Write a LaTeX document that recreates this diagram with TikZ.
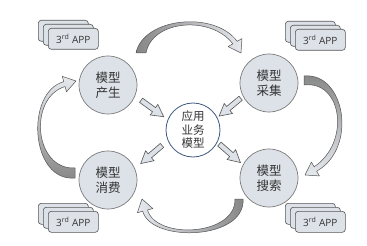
\documentclass[tikz,border=0pt]{standalone}
\usepackage{fontspec}
\setmainfont{Open Sans}
\newfontfamily\cjk{Noto Sans CJK SC}
\usetikzlibrary{calc}
\definecolor{cfill}{HTML}{DDE2E8}
\definecolor{cline}{HTML}{7A7A7A}
\definecolor{cblue}{HTML}{3F5A80}
\definecolor{adark}{HTML}{858585}
\definecolor{alight}{HTML}{E6E9EE}
\definecolor{aline}{HTML}{555555}
\definecolor{txt}{HTML}{333333}
\tikzset{
  model/.style={circle, draw=cline, fill=cfill, line width=0.7pt, minimum size=58pt, inner sep=0pt, align=center, font=\cjk\fontsize{12.5}{15}\selectfont, text=txt},
  core/.style={circle, draw=cblue, fill=white, line width=0.8pt, minimum size=54pt, inner sep=0pt, align=center, font=\cjk\fontsize{11.5}{13.5}\selectfont, text=txt},
  appbox/.style={draw=aline, fill=cfill, rounded corners=3pt, line width=0.6pt, minimum width=50pt, minimum height=21pt, anchor=north west, inner sep=0pt, font=\fontsize{10}{11}\selectfont, text=txt},
  curvarrow/.style={draw=aline, line width=0.5pt, line join=round},
  blockarrow/.pic={\draw[draw=aline, fill=cfill, line width=0.6pt, line join=miter] (-14,-2.6) -- (2,-2.6) -- (2,-6.5) -- (14,0) -- (2,6.5) -- (2,2.6) -- (-14,2.6) -- cycle;}
}
\begin{document}
\begin{tikzpicture}[x=1pt,y=-1pt]
\fill[white] (0,0) rectangle (367,246);
\path[use as bounding box] (0,0) rectangle (367,246);

% curved arrows
\path[curvarrow, left color=adark, right color=alight] (136,53) .. controls (143,18) and (214,10) .. (237.2,41.35) -- (241.9,38.6) -- (241,53) -- (228.1,46.6) -- (232.8,43.85) .. controls (211,15) and (152,20) .. (146,53) -- cycle;
\path[curvarrow, top color=adark, bottom color=alight] (304,76) .. controls (345,72) and (358,148) .. (316.65,171.2) -- (319.4,175.9) -- (305,175) -- (311.4,162.1) -- (314.15,166.8) .. controls (351,142) and (342,80) .. (304,85) -- cycle;
\path[curvarrow, left color=alight, right color=adark] (243,199) .. controls (246,240) and (151.3,243.2) .. (142.7,211.2) -- (137.4,212.7) -- (142,199) -- (152.8,208.5) -- (147.5,209.95) .. controls (156,240) and (236,236) .. (235,199) -- cycle;
\path[curvarrow, top color=alight, bottom color=adark] (75,178) .. controls (30,182) and (25.1,92.1) .. (63.75,81.7) -- (62.3,76.4) -- (76,81) -- (66.5,91.8) -- (65.05,86.5) .. controls (28,98) and (34,170) .. (75,168) -- cycle;

% circles
\node[model] (p) at (108,85) {模型\\产生};
\node[model] (s) at (269,83) {模型\\采集};
\node[model] (x) at (108,180) {模型\\消费};
\node[model] (q) at (269,178) {模型\\搜索};
\node[core] (c) at (193,130) {应用\\业务\\模型};

% block arrows
\path (p) -- (c) pic[pos=0.53, sloped, allow upside down, rotate=-8]{blockarrow};
\path (s) -- (c) pic[pos=0.51, sloped, allow upside down, rotate=8]{blockarrow};
\path (c) -- (x) pic[pos=0.5, sloped, allow upside down, rotate=10]{blockarrow};
\path (c) -- (q) pic[pos=0.49, sloped, allow upside down, rotate=-9]{blockarrow};

% app stacks
\node[appbox] (tla) at (38,20) {};
\node[appbox] (tlb) at (43,24) {};
\node[appbox] (tlc) at (48,28) {3\textsuperscript{rd} APP};
\node[appbox] (tra) at (285,21) {};
\node[appbox] (trb) at (290,25) {};
\node[appbox] (trc) at (295,29) {3\textsuperscript{rd} APP};
\node[appbox] (bla) at (38,203) {};
\node[appbox] (blb) at (43,207) {};
\node[appbox] (blc) at (48,211) {3\textsuperscript{rd} APP};
\node[appbox] (bra) at (285,203) {};
\node[appbox] (brb) at (290,207) {};
\node[appbox] (brc) at (295,211) {3\textsuperscript{rd} APP};
\end{tikzpicture}
\end{document}
